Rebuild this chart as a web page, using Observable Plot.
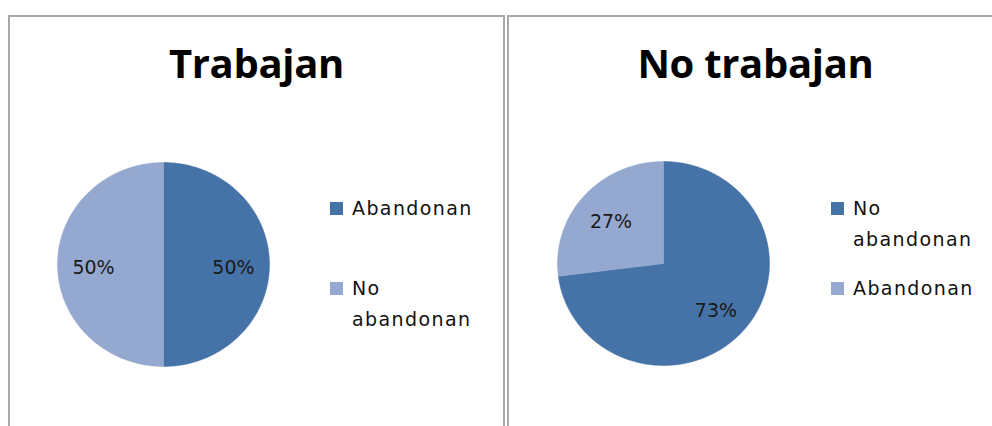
<!DOCTYPE html>
<html>
<head>
<meta charset="utf-8">
<script src="https://cdn.jsdelivr.net/npm/d3@7"></script>
<script src="https://cdn.jsdelivr.net/npm/@observablehq/plot@0.6"></script>
<style>
  html, body { margin: 0; padding: 0; background: #fff; }
  #root { position: relative; width: 992px; height: 426px; overflow: hidden; }
  .panel { position: absolute; top: 15px; width: 497px; height: 440px; border: 2px solid #a9a9a9; box-sizing: border-box; background: #fff; }
  .title { position: absolute; left: 0; right: 0; top: 21px; text-align: center; font-family: "Open Sans", sans-serif; font-weight: 700; font-size: 40px; line-height: 50px; color: #000; letter-spacing: -0.3px; }
  .pie { position: absolute; }
  .legend { position: absolute; font-family: "DejaVu Sans", sans-serif; font-size: 19px; color: #111; letter-spacing: 1.4px; }
  .swatch { position: absolute; left: 0; width: 13px; height: 13px; }
  .label { position: absolute; left: 22px; line-height: 31px; white-space: nowrap; }
</style>
</head>
<body>
<div id="root"></div>
<script>
// ---- data ----
const panelTitles = ["Trabajan", "No trabajan"];
const trabajanCategories = ["Abandonan", "No abandonan"];
const trabajanValues = [50, 50];
const noTrabajanCategories = ["No abandonan", "Abandonan"];
const noTrabajanValues = [73, 27];
const legendLines1 = [["Abandonan"], ["No", "abandonan"]];
const legendLines2 = [["No", "abandonan"], ["Abandonan"]];

// ---- style ----
const sliceColors = ["#4673a7", "#95a9d0"];

function pieChart(categories, values) {
  const total = d3.sum(values);
  const pts = [];
  const labels = [];
  let acc = 0;
  categories.forEach((c, i) => {
    const a0 = acc / total * 2 * Math.PI;
    acc += values[i];
    const a1 = acc / total * 2 * Math.PI;
    pts.push({key: c, x: 0, y: 0});
    const n = Math.max(2, Math.ceil((a1 - a0) / (Math.PI / 180)));
    for (let k = 0; k <= n; k++) {
      const a = a0 + (a1 - a0) * k / n;
      pts.push({key: c, x: Math.sin(a), y: Math.cos(a)});
    }
    pts.push({key: c, x: 0, y: 0});
    const am = (a0 + a1) / 2;
    labels.push({key: c, x: 0.66 * Math.sin(am), y: 0.66 * Math.cos(am), text: Math.round(values[i] / total * 100) + "%"});
  });
  return Plot.plot({
    width: 212,
    height: 204,
    margin: 0,
    x: {domain: [-1, 1], axis: null},
    y: {domain: [-1, 1], axis: null},
    color: {domain: categories, range: sliceColors},
    style: {background: "transparent", overflow: "visible"},
    marks: [
      Plot.line(pts, {x: "x", y: "y", z: "key", fill: "key", stroke: "key", strokeWidth: 0.5, curve: "linear"}),
      Plot.text(labels, {x: "x", y: "y", text: "text", fill: "#1a1a1a", fontSize: 19, fontFamily: "DejaVu Sans", dy: 3, style: "letter-spacing:1.2px"})
    ]
  });
}

const root = document.getElementById("root");
const configs = [
  {left: 8, cats: trabajanCategories, vals: trabajanValues, cx: 162.5, cy: 264, legend: legendLines1, lx: 330, ly: [202, 282]},
  {left: 507, cats: noTrabajanCategories, vals: noTrabajanValues, cx: 662.5, cy: 263, legend: legendLines2, lx: 831, ly: [202, 282]}
];
configs.forEach((cfg, p) => {
  const panel = document.createElement("div");
  panel.className = "panel";
  panel.style.left = cfg.left + "px";
  root.appendChild(panel);
  const t = document.createElement("div");
  t.className = "title";
  t.textContent = panelTitles[p];
  panel.appendChild(t);

  const pie = pieChart(cfg.cats, cfg.vals);
  const wrap = document.createElement("div");
  wrap.className = "pie";
  wrap.style.left = (cfg.cx - 106) + "px";
  wrap.style.top = (cfg.cy - 102) + "px";
  wrap.appendChild(pie);
  root.appendChild(wrap);

  const lg = document.createElement("div");
  lg.className = "legend";
  lg.style.left = cfg.lx + "px";
  lg.style.top = "0px";
  cfg.cats.forEach((c, i) => {
    const sw = document.createElement("div");
    sw.className = "swatch";
    sw.style.top = cfg.ly[i] + "px";
    sw.style.background = sliceColors[i];
    lg.appendChild(sw);
    const lab = document.createElement("div");
    lab.className = "label";
    lab.style.top = (cfg.ly[i] - 9) + "px";
    lab.innerHTML = cfg.legend[i].join("<br>");
    lg.appendChild(lab);
  });
  root.appendChild(lg);
});
</script>
</body>
</html>
